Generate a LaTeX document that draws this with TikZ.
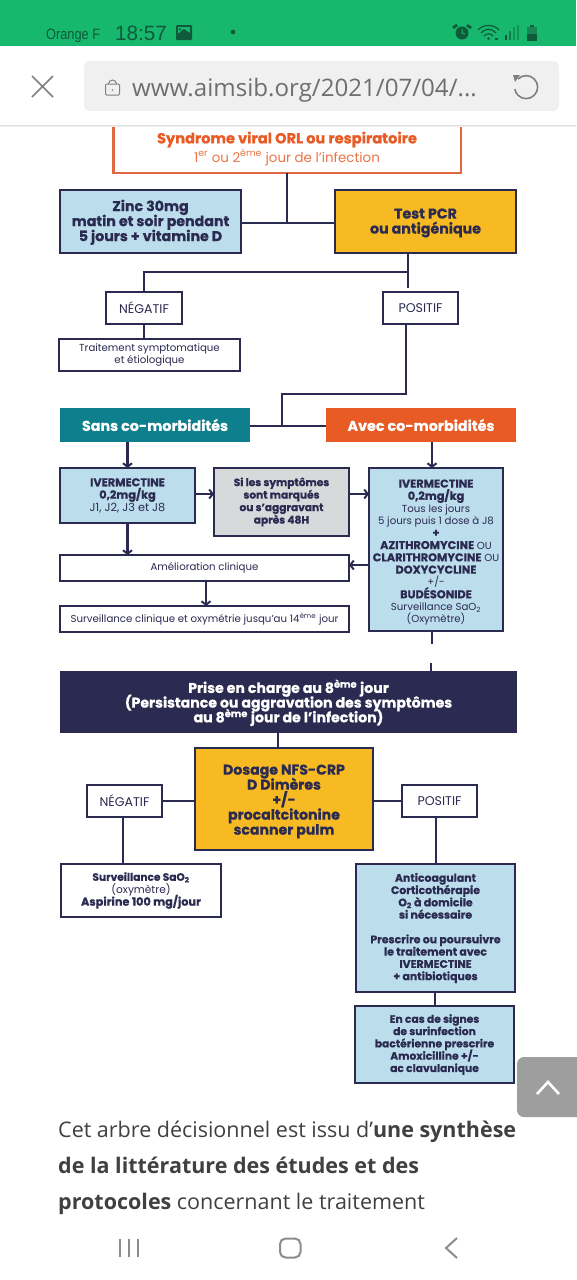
\documentclass[tikz,border=0pt]{standalone}
\usepackage{fontspec}
\usepackage{graphicx}
\setmainfont{Poppins}[BoldFeatures={FakeBold=0.7}]
\newfontfamily\osans{Open Sans}
\newfontfamily\lsans{Liberation Sans}
\usetikzlibrary{arrows.meta,calc}
\definecolor{navy}{HTML}{2B2A50}
\definecolor{lblue}{HTML}{BCDDEC}
\definecolor{amber}{HTML}{F8BA22}
\definecolor{tealb}{HTML}{0E7F8C}
\definecolor{orgb}{HTML}{E85B25}
\definecolor{orgl}{HTML}{E0693F}
\definecolor{greyb}{HTML}{D8D9DB}
\definecolor{barg}{HTML}{17B76D}
\definecolor{stat}{HTML}{0F5A3A}
\definecolor{urlc}{HTML}{6E6E6E}
\definecolor{bodyc}{HTML}{404040}
\lineskiplimit=-30pt
\newcommand{\bx}[7]{\pgfmathsetmacro\cxx{(#3+#5)/2}\pgfmathsetmacro\cyy{(#4+#6)/2}\pgfmathsetmacro\ww{#5-#3}\pgfmathsetmacro\hh{#6-#4}\node[#2,minimum width=\ww pt,minimum height=\hh pt] (#1) at (\cxx,\cyy) {#7};}
\newcommand{\fsz}[2]{\fontsize{#1}{#2}\selectfont}
\newcommand{\capb}[1]{{\fsz{11.3}{12.3}\bfseries #1}}
\newcommand{\lift}[1]{\rule{0pt}{#1pt}}
\tikzset{
  base/.style={rectangle,align=center,inner sep=0pt,outer sep=0pt,line width=2.8pt,draw=navy,text=navy},
  bluebox/.style={base,fill=lblue},
  amberbox/.style={base,fill=amber,font=\fsz{14.2}{15}\bfseries},
  greybox/.style={base,fill=greyb},
  whitebox/.style={base,fill=white},
  solidbox/.style={base,draw=none,text=white,font=\fsz{14.3}{15}\bfseries},
  tagbox/.style={whitebox,font=\fsz{12.6}{13}},
  link/.style={draw=navy,line width=2.8pt},
  arr/.style={link,-{Straight Barb[length=3.5pt,width=9pt,line width=2pt]}},
  sm/.style={font=\fsz{10.2}{12.3}},
  chrome/.style={draw=#1,line width=1.6pt},
}
\begin{document}
\begin{tikzpicture}[x=1pt,y=-1pt]
\useasboundingbox (0,0) rectangle (576,1280);
\fill[white] (0,0) rectangle (576,1280);

% --- diagram ---
\bx{syn}{base,draw=orgl,fill=white}{113.5}{110}{461}{173}{}
\node[text=orgb,font=\fsz{14.6}{15}\bfseries] (synA) at (287,139.5) {Syndrome viral ORL ou respiratoire};
\node[text=orgb!85!white,font=\fsz{13.4}{15}] (synB) at (287,157.5) {1\textsuperscript{er} ou 2\textsuperscript{ème} jour de l’infection};

\bx{zinc}{bluebox,font=\fsz{14.2}{15}\bfseries}{60}{190}{241}{253}{\lift{13}Zinc 30mg\\matin et soir pendant\\5 jours + vitamine D}
\bx{test}{amberbox}{335}{190}{516}{253}{\lift{13}Test PCR\\ou antigénique}
\coordinate (j1) at (287,223);
\draw[link] (zinc.east |- j1) -- (test.west |- j1);
\draw[link] (syn.south -| j1) -- (j1);

\bx{neg1}{tagbox}{106}{292}{182}{324}{NÉGATIF}
\bx{pos1}{tagbox}{383}{292}{458}{324}{POSITIF}
\bx{trt}{whitebox,font=\fsz{10.2}{12}}{59}{339}{240}{371}{Traitement symptomatique\\et étiologique}
\coordinate (j2) at (408,272);
\coordinate (j2e) at (408,288);
\draw[link] (test.south -| j2) -- (j2e);
\draw[link] (j2) -| (neg1.north);
\draw[link] (neg1.south) -- (trt.north -| neg1.south);

\bx{sans}{solidbox,fill=tealb}{60}{408}{250}{442}{Sans co-morbidités}
\bx{avec}{solidbox,fill=orgb}{326}{408}{516}{442}{Avec co-morbidités}
\coordinate (j3) at (406,394);
\coordinate (j4) at (282,426);
\draw[link] (sans.east |- j4) -- (avec.west |- j4);
\draw[link] (pos1.south -| j3) -- (j3) -| (j4);

\bx{ivl}{bluebox,font=\fsz{11.3}{12.45}}{60}{468}{195}{523}{\capb{IVERMECTINE}\\\capb{0,2mg/kg}\\J1, J2, J3 et J8}
\bx{sil}{greybox,font=\fsz{10.6}{12.5}\bfseries}{214}{468}{349}{536}{Si les symptômes\\sont marqués\\ou s’aggravant\\après 48H}
\bx{ivr}{bluebox,sm}{369}{468}{503}{631}{\lift{14}\capb{IVERMECTINE}\\\capb{0,2mg/kg}\\Tous les jours\\5 jours puis 1 dose à J8\\\capb{+}\\\capb{AZITHROMYCINE} OU\\\capb{CLARITHROMYCINE} OU\\\capb{DOXYCYCLINE}\\+/-\\\capb{BUDÉSONIDE}\\Surveillance SaO\textsubscript{2}\\(Oxymètre)}
\bx{ame}{whitebox,sm}{60}{555}{349}{581}{Amélioration clinique}
\bx{sur}{whitebox,sm}{60}{606}{349}{632}{Surveillance clinique et oxymétrie jusqu’au 14\textsuperscript{ème} jour}

\draw[arr] (sans.south -| ivl.north) -- (ivl.north);
\coordinate (xa) at (432,442);
\draw[arr] (avec.south -| xa) -- (ivr.north -| xa);
\coordinate (ya) at (0,494);
\draw[arr] (ivl.east |- ya) -- (sil.west |- ya);
\draw[arr] (sil.east |- ya) -- (ivr.west |- ya);
\draw[arr] (ivl.south) -- (ame.north -| ivl.south);
\coordinate (yb) at (0,565);
\draw[arr] (ivr.west |- yb) -- (ame.east |- yb);
\coordinate (xb) at (206,0);
\draw[arr] (ame.south -| xb) -- (sur.north -| xb);

\bx{pec}{solidbox,fill=navy,font=\fsz{14.1}{14.7}\bfseries}{60}{671}{517}{733}{\lift{15}Prise en charge au 8\textsuperscript{ème} jour\\(Persistance ou aggravation des symptômes\\au 8\textsuperscript{ème} jour de l’infection)}
\coordinate (s1) at (432,644);
\coordinate (s2) at (431,663);
\draw[link] (ivr.south -| s1) -- (s1);
\draw[link] (s2) -- (pec.north -| s2);

\bx{dos}{amberbox,font=\fsz{14.1}{15}\bfseries}{195}{748}{373}{850}{\lift{15}Dosage NFS-CRP\\D Dimères\\+/-\\procaltcitonine\\scanner pulm}
\coordinate (xc) at (278,0);
\draw[link] (pec.south -| xc) -- (dos.north -| xc);
\bx{neg2}{tagbox}{87}{785}{162}{817}{NÉGATIF}
\bx{pos2}{tagbox}{402}{785}{477}{817}{POSITIF}
\draw[link] (neg2.east) -- (dos.west |- neg2.east);
\draw[link] (dos.east |- pos2.west) -- (pos2.west);

\bx{srv}{whitebox,font=\fsz{10.6}{12.45}}{61}{864}{221}{917}{\textbf{Surveillance SaO\textsubscript{2}}\\(oxymètre)\\\capb{Aspirine 100 mg/jour}}
\bx{ant}{bluebox,font=\fsz{10.9}{12.3}\bfseries}{356}{864}{515}{992}{Anticoagulant\\Corticothérapie\\O\textsubscript{2} à domicile\\si nécessaire\\[12.3pt]Prescrire ou poursuivre\\le traitement avec\\IVERMECTINE\\+ antibiotiques}
\bx{enc}{bluebox,font=\fsz{10.7}{12.3}\bfseries}{355}{1006}{514}{1083}{En cas de signes\\de surinfection\\bactérienne prescrire\\Amoxicilline +/-\\ac clavulanique}
\coordinate (xd) at (123,0);
\coordinate (xe) at (436,0);
\coordinate (xf) at (435,0);
\draw[link] (neg2.south -| xd) -- (srv.north -| xd);
\draw[link] (pos2.south -| xe) -- (ant.north -| xe);
\draw[link] (ant.south -| xf) -- (enc.north -| xf);

% --- page text ---
\node[anchor=base west,inner sep=0,text=bodyc,font=\osans\fsz{21.5}{24}] (l1) at (58,1137) {Cet arbre décisionnel est issu d’\textbf{une synthèse}};
\node[anchor=base west,inner sep=0,text=bodyc,font=\osans\fsz{21.5}{24}\bfseries] (l2) at (58,1173) {de la littérature des études et des};
\node[anchor=base west,inner sep=0,text=bodyc,font=\osans\fsz{21.5}{24}] (l3) at (58,1209) {\textbf{protocoles} concernant le traitement};

% --- scroll button ---
\fill[black!38,rounded corners=7pt] (590,1057) -- (517,1057) -- (517,1117) -- (590,1117) -- cycle;
\draw[white,line width=2.6pt] (537,1094) -- (548,1082) -- (559,1094);

% --- browser header ---
\fill[black!6] (0,125) rectangle (576,127);
\fill[black!12] (0,125) rectangle (576,126);
\fill[white] (0,46) rectangle (576,125);
\fill[barg] (0,0) rectangle (576,46);
\fill[black!6,rounded corners=6pt] (84,61) rectangle (559,111);
\draw[chrome=black!50] (32,76) -- (53,97) (53,76) -- (32,97);
\draw[black!50,line width=1pt,rounded corners=1pt] (105.5,84) rectangle (119.5,95);
\draw[black!50,line width=1pt] (108.5,84) arc[start angle=180,end angle=360,radius=4];
\fill[black!50] (112.5,90) circle (0.9);
\node[anchor=base west,inner sep=0,text=urlc,font=\osans\fsz{24.1}{26}] (url) at (132,96) {www.aimsib.org/2021/07/04/...};
\draw[black!50,line width=1.6pt] (518,79) arc[start angle=-135,end angle=170,radius=11.5];
\fill[black!50] (513,75) -- (520,75) -- (515,82) -- cycle;

% --- status bar ---
\node[anchor=base west,inner sep=0,text=stat,font=\lsans\fsz{15}{17}] (op) at (46,39) {\scalebox{0.85}[1]{Orange F}};
\node[anchor=base west,inner sep=0,text=stat,font=\lsans\fsz{20.7}{22}] (tm) at (115,40) {18:57};
\fill[stat,rounded corners=1pt] (176,25) rectangle (192,40);
\fill[barg] (178,27) rectangle (190,33);
\fill[stat] (180,29.5) circle (1.3);
\fill[stat] (178,34) -- (184,29) -- (190,33) -- cycle;
\fill[stat] (233,32) circle (2.3);
\fill[stat] (462,33) circle (6.5);
\draw[barg,line width=1pt] (462,29) -- (462,33) -- (465,34);
\fill[stat] (452,27) -- (456,24) -- (458,26) -- (454,29) -- cycle;
\fill[stat] (472,27) -- (468,24) -- (466,26) -- (470,29) -- cycle;
\draw[stat,line width=1.2pt] (478,30) .. controls (483,24) and (494,24) .. (499,30);
\draw[stat,line width=1.2pt] (481,33) .. controls (485,28) and (492,28) .. (496,33);
\draw[stat,line width=1.2pt] (484,36) .. controls (487,33) and (490,33) .. (493,36);
\fill[stat] (488.5,38.5) circle (1.3);
\fill[stat] (495,38) rectangle (498,40);
\fill[stat] (505,35) rectangle (506.5,40);
\fill[stat!60!barg] (509,31) rectangle (510.5,40);
\fill[stat!40!barg] (513,27) rectangle (514.5,40);
\fill[stat!40!barg] (517,25) rectangle (518.5,40);
\fill[stat!50!barg] (527,27) rectangle (537,34);
\fill[stat] (530,24.5) rectangle (534,27);
\fill[stat] (527,34) rectangle (537,40.5);

% --- nav bar ---
\draw[black!45,line width=1.8pt] (120,1239) -- (120,1257) (129,1239) -- (129,1257) (138,1239) -- (138,1257);
\draw[black!45,line width=2pt,rounded corners=5.5pt] (280,1238.5) rectangle (300.5,1257.5);
\draw[black!45,line width=2pt] (457,1238) -- (446,1248) -- (457,1258);
\end{tikzpicture}
\end{document}
